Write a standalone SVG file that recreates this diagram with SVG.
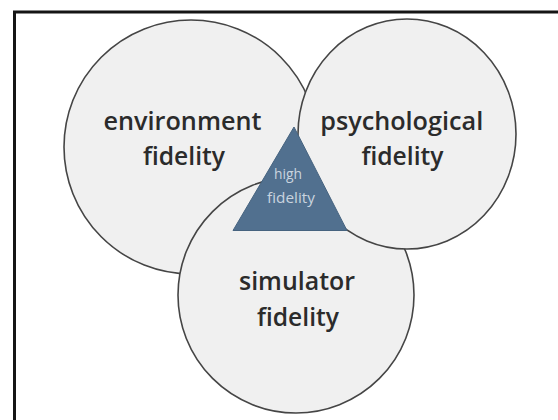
<svg xmlns="http://www.w3.org/2000/svg" width="558" height="420" viewBox="0 0 558 420">
<style>
.circ{fill:#f0f0f0;stroke:#454545;stroke-width:1.6}
.lbl{font-family:"Open Sans","Noto Sans",sans-serif;font-size:25px;font-weight:600;fill:#2b2b2b;text-anchor:middle}
.sm{font-family:"Open Sans","Noto Sans",sans-serif;font-size:14px;fill:#c9d4df;text-anchor:middle}
</style>
<rect width="558" height="420" fill="#ffffff"/>
<rect id="frame" x="14.5" y="12" width="600" height="450" fill="#ffffff" stroke="#151515" stroke-width="3"/>
<g id="environment">
<circle class="circ" cx="191" cy="147" r="127"/>
<text class="lbl" x="182.5" y="129.5" textLength="158" lengthAdjust="spacingAndGlyphs">environment</text>
<text class="lbl" x="184" y="165" textLength="82" lengthAdjust="spacingAndGlyphs">fidelity</text>
</g>
<g id="simulator">
<circle class="circ" cx="296" cy="295" r="118"/>
<text class="lbl" x="297" y="290" textLength="116" lengthAdjust="spacingAndGlyphs">simulator</text>
<text class="lbl" x="298" y="326" textLength="82" lengthAdjust="spacingAndGlyphs">fidelity</text>
</g>
<g id="psychological">
<ellipse class="circ" cx="407" cy="134" rx="109" ry="115"/>
<text class="lbl" x="401.7" y="129.5" textLength="163" lengthAdjust="spacingAndGlyphs">psychological</text>
<text class="lbl" x="402.5" y="165" textLength="82" lengthAdjust="spacingAndGlyphs">fidelity</text>
</g>
<g id="high-fidelity">
<polygon points="294,127 233,230.5 347,230.5" fill="#51708f" stroke="#46637f" stroke-width="1"/>
<text class="sm" x="288" y="179" textLength="28" lengthAdjust="spacingAndGlyphs">high</text>
<text class="sm" x="291" y="203" textLength="48" lengthAdjust="spacingAndGlyphs">fidelity</text>
</g>
<g id="connectors"/>
</svg>
